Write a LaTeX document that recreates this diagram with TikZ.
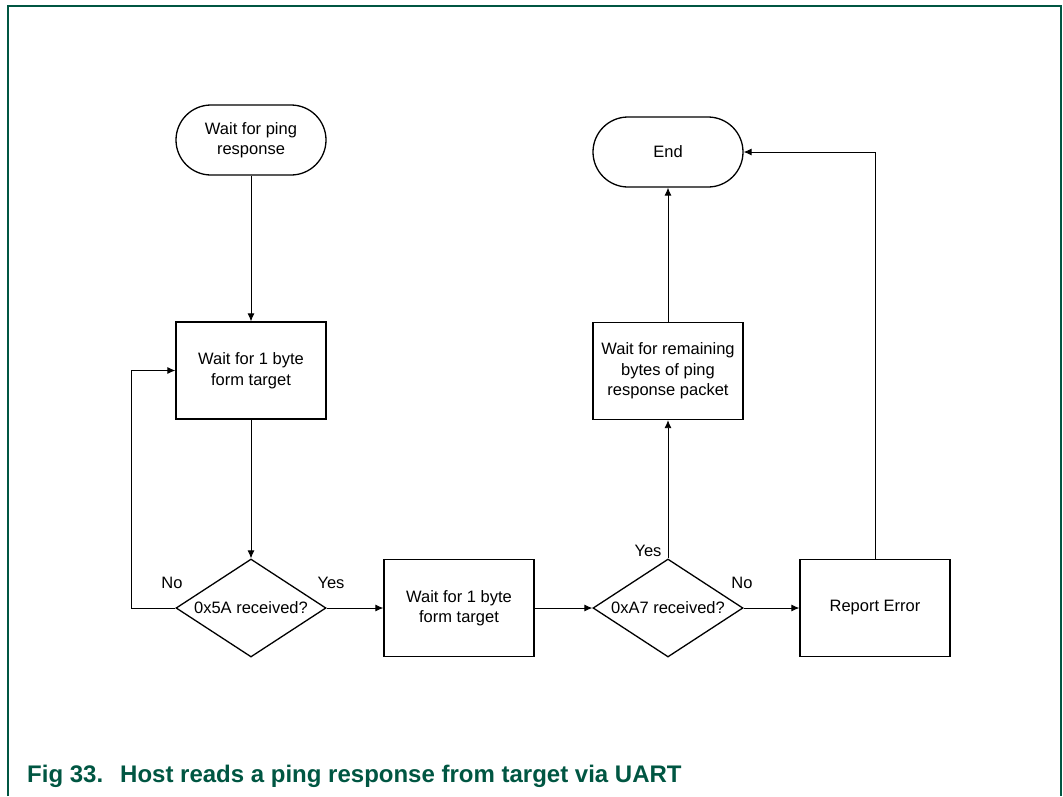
\documentclass[tikz,border=0pt]{standalone}
\usepackage{fontspec}
\setmainfont{Liberation Sans}
\usetikzlibrary{shapes.geometric,arrows.meta}
\definecolor{nxpgreen}{RGB}{0,86,66}
\begin{document}
\begin{tikzpicture}[x=1pt,y=-1pt,
  base/.style={draw=black,line width=1.3pt,align=center,font=\fontsize{16.5}{20.5}\selectfont,inner sep=0pt},
  term/.style={base,minimum width=150pt,minimum height=70pt,rounded corners=35pt},
  proc/.style={base,minimum width=150pt,minimum height=97pt},
  dec/.style={base,diamond,aspect=1.53,minimum width=150pt,minimum height=98pt},
  conn/.style={line width=0.9pt,-{Latex[length=8pt,width=7pt]}},
  lbl/.style={font=\fontsize{16.5}{20}\selectfont,inner sep=0pt},
  captxt/.style={text=nxpgreen,font=\fontsize{24}{28}\selectfont\bfseries,inner sep=0pt,anchor=base west}]
\useasboundingbox (0,0) rectangle (1063,796);
\draw[nxpgreen,line width=1.6pt] (8,796) -- (8,6) -- (1061,6) -- (1061,796);

\node[term] (start) at (251,140) {Wait for ping\\response};
\node[proc] (box1) at (251,370.5) {Wait for 1 byte\\form target};
\node[dec] (dia1) at (251,608) {0x5A received?};
\node[proc] (box2) at (459,608) {Wait for 1 byte\\form target};
\node[dec] (dia2) at (668,608) {0xA7 received?};
\node[proc] (box3) at (875,608) {Report Error};
\node[proc] (box4) at (668,371) {Wait for remaining\\bytes of ping\\response packet};
\node[term] (end) at (668,152) {End};

\coordinate (loop) at (131,608);

\draw[conn] (start) -- (box1);
\draw[conn] (box1) -- (dia1);
\draw[conn] (dia1.west) -- (loop) |- (box1.west);
\draw[conn] (dia1.east) -- (box2.west);
\draw[conn] (box2.east) -- (dia2.west);
\draw[conn] (dia2.north) -- (box4.south);
\draw[conn] (box4.north) -- (end.south);
\draw[conn] (dia2.east) -- (box3.west);
\draw[conn] (box3.north) |- (end.east);

\node[lbl] (no1) at (172,583) {No};
\node[lbl] (yes1) at (331,583) {Yes};
\node[lbl] (yes2) at (648,551) {Yes};
\node[lbl] (no2) at (742,583) {No};

\node[captxt] (capnum) at (27,782) {Fig 33.};
\node[captxt] (captext) at (120,782) {Host reads a ping response from target via UART};
\end{tikzpicture}
\end{document}
